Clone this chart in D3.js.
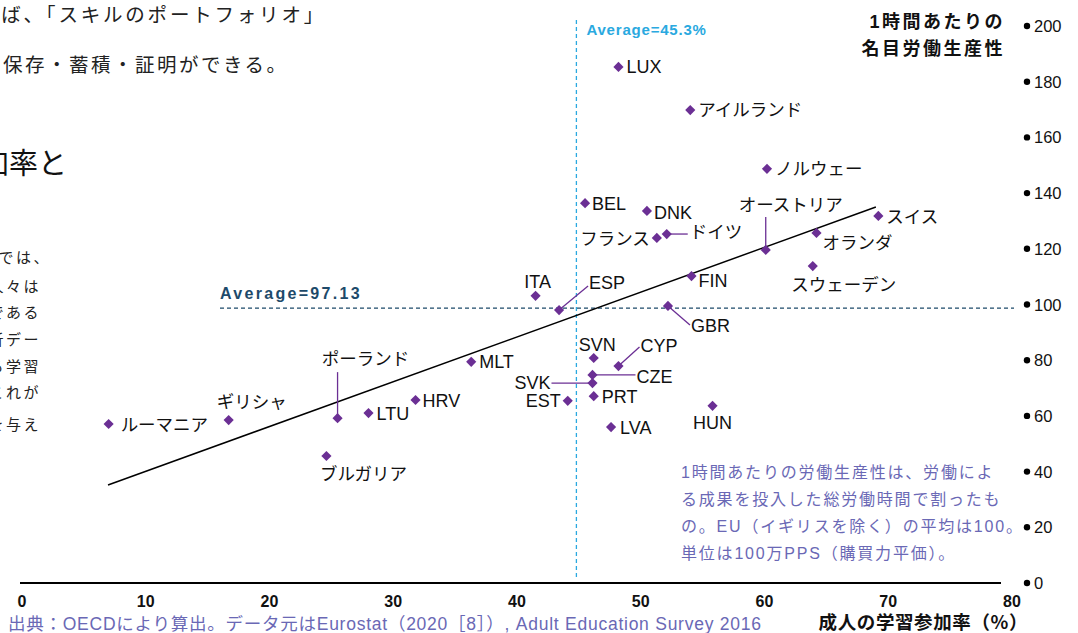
<!DOCTYPE html>
<html><head><meta charset="utf-8">
<script src="https://cdn.jsdelivr.net/npm/d3@7"></script>
<style>
html,body{margin:0;padding:0;background:#fff;overflow:hidden;}
svg{display:block;}
text{font-family:"Liberation Sans","Noto Sans CJK JP",sans-serif;}
.jp{font-family:"Noto Sans CJK JP","Liberation Sans",sans-serif;}
</style></head>
<body>
<script>
// ---- data ----
const countries = ["LUX","アイルランド","ノルウェー","BEL","DNK","ドイツ","フランス","オーストリア","スイス","オランダ","スウェーデン","FIN","ITA","ESP","GBR","SVN","CYP","CZE","SVK","PRT","EST","LVA","HUN","MLT","HRV","LTU","ポーランド","ギリシャ","ルーマニア","ブルガリア"];
const participation = [48.2,54.0,60.2,45.5,50.5,52.1,51.3,60.1,69.2,64.2,63.9,54.1,41.5,43.4,52.2,46.2,48.2,46.1,46.1,46.2,44.1,47.6,55.8,36.3,31.8,28.0,25.5,16.7,7.0,24.6];
const productivity = [185.3,169.8,148.7,136.4,133.6,125.3,123.9,119.6,131.8,125.7,113.8,110.2,103.1,98.0,99.5,80.8,77.9,74.7,71.8,67.1,65.4,56.0,63.6,79.4,65.7,61.0,59.2,58.5,57.1,45.6];
const xTicks = [0,10,20,30,40,50,60,70,80];
const yTicks = [0,20,40,60,80,100,120,140,160,180,200];
const trendX = [6.95,69.0];
const trendY = [35.2,135.0];
const avgX = 44.8, avgXLabel = "Average=45.3%";
const avgY = 98.7, avgYLabel = "Average=97.13";

// ---- label layout (pixel offsets from point) ----
const lay = {
 "LUX":[8,0,"start"], "アイルランド":[8,0,"start"], "ノルウェー":[8,0,"start"],
 "BEL":[7,0,"start"], "DNK":[7,2,"start"], "ドイツ":[23,-2,"start",[21,0]],
 "フランス":[-7,1,"end"], "オーストリア":[25,-45,"middle",[0,-33]],
 "スイス":[8,1,"start"], "オランダ":[6,10,"start"], "スウェーデン":[31,19,"middle"],
 "FIN":[7,4,"start"], "ITA":[2,-14,"middle"], "ESP":[30,-28,"start",[29,-24]],
 "GBR":[23,20,"start",[22,19]], "SVN":[-15,-13,"start"], "CYP":[22,-21,"start",[21,-19]],
 "CZE":[44,2,"start",[43,0]], "SVK":[-42,-1,"end",[-41,0]], "PRT":[8,0,"start"],
 "EST":[-7,0,"end"], "LVA":[9,0,"start"], "HUN":[0,17,"middle"],
 "MLT":[8,0,"start"], "HRV":[7,0,"start"], "LTU":[8,0,"start"],
 "ポーランド":[28,-59,"middle",[0,-46]], "ギリシャ":[23,-18,"middle"],
 "ルーマニア":[12,1,"start"], "ブルガリア":[37,18,"middle"]
};

const W = 1078, H = 633;
const svg = d3.select("body").append("svg").attr("width",W).attr("height",H);

const x = d3.scaleLinear().domain([0,80]).range([22,1012]);
const y = d3.scaleLinear().domain([0,200]).range([583,26]);

// ---- background page text (cropped page) ----
const bg = svg.append("g").attr("class","jp").attr("fill","#222");
bg.append("text").attr("x",326).attr("y",22).attr("text-anchor","end").attr("font-size",19.5).attr("letter-spacing",2.8).text("例えば、「スキルのポートフォリオ」");
bg.append("text").attr("x",3).attr("y",72).attr("font-size",19.5).attr("letter-spacing",2.5).text("保存・蓄積・証明ができる。");
bg.append("text").attr("x",-20).attr("y",174).attr("font-size",29).attr("fill","#111").text("加率と");
const paraLines = ["国では、","の人々は","中である","析デー","る学習","これが","を与え"];
const paraY = [263,292,318,345,372,398,430];
const paraX = [51,41,41,41,41,41,41];
paraLines.forEach((t,i)=>{
  bg.append("text").attr("x",paraX[i]).attr("y",paraY[i]).attr("text-anchor","end").attr("font-size",15).attr("letter-spacing",2.5).text(t);
});

// ---- title ----
const title = svg.append("g").attr("class","jp").attr("font-weight","bold").attr("font-size",18).attr("fill","#111").attr("text-anchor","end");
title.append("text").attr("x",1005).attr("y",28).attr("letter-spacing",2.5).text("1時間あたりの");
title.append("text").attr("x",1005).attr("y",55).attr("letter-spacing",2.5).text("名目労働生産性");

// ---- average lines ----
svg.append("line").attr("x1",x(avgX)).attr("x2",x(avgX)).attr("y1",20).attr("y2",580)
  .attr("stroke","#2aa9e0").attr("stroke-width",1.3).attr("stroke-dasharray","4,3");
svg.append("text").attr("x",x(avgX)+10).attr("y",35).attr("fill","#2aa9e0").attr("font-size",15).attr("letter-spacing",0.8).attr("font-weight","bold").text(avgXLabel);
svg.append("line").attr("x1",220).attr("x2",1014).attr("y1",y(avgY)).attr("y2",y(avgY))
  .attr("stroke","#1d4a6a").attr("stroke-width",1.2).attr("stroke-dasharray","4,3");
svg.append("text").attr("x",220).attr("y",y(avgY)-9).attr("fill","#1d4a6a").attr("font-size",16).attr("letter-spacing",2.3).attr("font-weight","bold").text(avgYLabel);

// ---- trend line ----
svg.append("line").attr("x1",x(trendX[0])).attr("y1",y(trendY[0])).attr("x2",x(trendX[1])).attr("y2",y(trendY[1]))
  .attr("stroke","#000").attr("stroke-width",1.5);

// ---- x axis ----
svg.append("line").attr("x1",20).attr("x2",1001).attr("y1",583).attr("y2",583).attr("stroke","#000").attr("stroke-width",2);
svg.append("g").selectAll("text").data(xTicks).join("text")
  .attr("x",d=>x(d)).attr("y",607).attr("text-anchor","middle").attr("font-size",16).attr("font-weight","bold").attr("fill","#111").text(d=>d);
svg.append("text").attr("class","jp").attr("x",1028).attr("y",629).attr("text-anchor","end").attr("font-size",18.5).attr("letter-spacing",0.6).attr("font-weight","bold").attr("fill","#111").text("成人の学習参加率（%）");

// ---- y axis (right) ----
const ya = svg.append("g").selectAll("g").data(yTicks).join("g").attr("transform",d=>`translate(0,${y(d)})`);
ya.append("circle").attr("cx",1027).attr("cy",0).attr("r",3.2).attr("fill","#000");
ya.append("text").attr("x",1034).attr("y",6).attr("font-size",16.5).attr("fill","#111").text(d=>d);

// ---- leaders, points, labels ----
const data = countries.map((c,i)=>({c, px:x(participation[i]), py:y(productivity[i])}));
const purple = "#6b2f94";
svg.append("g").selectAll("line").data(data.filter(d=>lay[d.c][3])).join("line")
  .attr("x1",d=>d.px).attr("y1",d=>d.py)
  .attr("x2",d=>d.px+lay[d.c][3][0]).attr("y2",d=>d.py+lay[d.c][3][1])
  .attr("stroke",purple).attr("stroke-width",1.3);
svg.append("g").selectAll("rect").data(data).join("rect")
  .attr("x",-3.6).attr("y",-3.6).attr("width",7.2).attr("height",7.2)
  .attr("transform",d=>`translate(${d.px},${d.py}) rotate(45)`).attr("fill",purple);
const isJP = s=>/[^\x00-\x7f]/.test(s);
svg.append("g").selectAll("text").data(data).join("text")
  .attr("class",d=>isJP(d.c)?"jp":null)
  .attr("x",d=>d.px+lay[d.c][0]).attr("y",d=>d.py+lay[d.c][1])
  .attr("dy","0.36em").attr("text-anchor",d=>lay[d.c][2])
  .attr("font-size",d=>isJP(d.c)?17.5:18).attr("fill","#111").text(d=>d.c);

// ---- note ----
const noteLines = ["1時間あたりの労働生産性は、労働によ","る成果を投入した総労働時間で割ったも","の。EU（イギリスを除く）の平均は100。","単位は100万PPS（購買力平価）。"];
svg.append("g").selectAll("text").data(noteLines).join("text")
  .attr("x",681).attr("y",(d,i)=>478+i*27).attr("font-size",16).attr("letter-spacing",1.8).attr("fill","#6a68b5").text(d=>d);

// ---- source ----
svg.append("text").attr("x",8).attr("y",630).attr("font-size",17.5).attr("letter-spacing",0.75).attr("fill","#6a68b5")
  .text("出典：OECDにより算出。データ元はEurostat（2020［8］）, Adult Education Survey 2016");
</script>
</body></html>
